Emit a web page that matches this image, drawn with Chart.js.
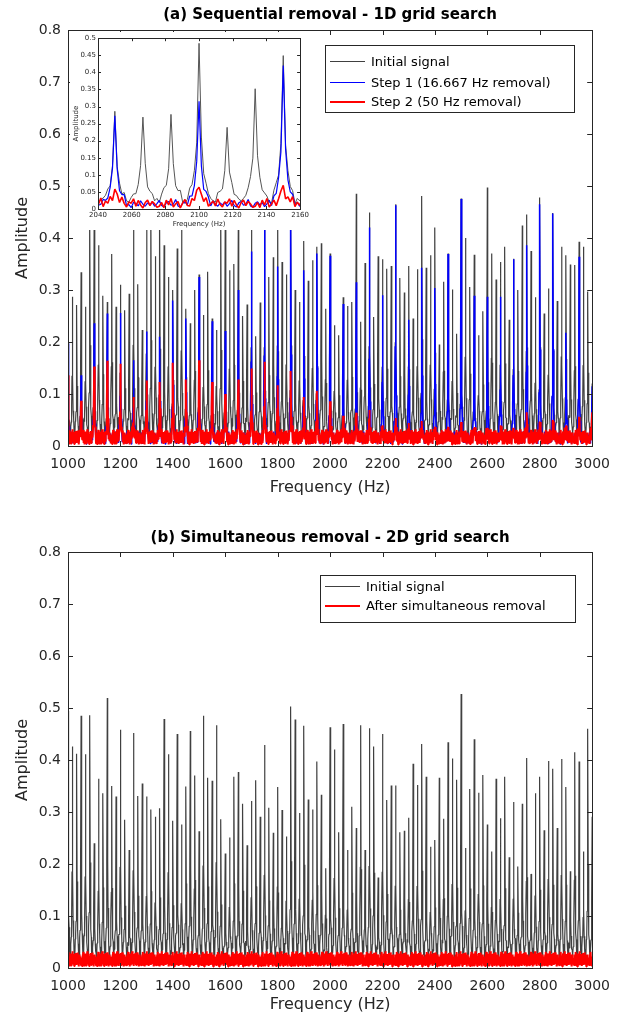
<!DOCTYPE html>
<html>
<head>
<meta charset="utf-8">
<script src="https://cdn.jsdelivr.net/npm/chart.js@4.4.1/dist/chart.umd.min.js"></script>
<style>
  body { margin: 0; background: #fff; }
  #wrap { position: relative; width: 620px; height: 1023px; }
  canvas { position: absolute; }
</style>
</head>
<body>
<div id="wrap">
  <canvas id="chartTop" width="620" height="505" style="left:0;top:0"></canvas>
  <canvas id="chartBottom" width="620" height="518" style="left:0;top:505px"></canvas>
  <canvas id="chartInset" width="241" height="198" style="left:70px;top:32px"></canvas>
</div>
<script>
// harmonics of 16.667 Hz from 1000 to 3000 Hz (121 lines), amplitudes
var topInitial = [
    0.2, 0.287, 0.271, 0.334, 0.268, 0.46, 0.45, 0.386, 0.289, 0.277,
    0.369, 0.268, 0.31, 0.261, 0.293, 0.47, 0.311, 0.223, 0.44, 0.46,
    0.365, 0.45, 0.386, 0.325, 0.3, 0.38, 0.44, 0.264, 0.236, 0.3,
    0.33, 0.252, 0.335, 0.245, 0.223, 0.46, 0.44, 0.338, 0.35, 0.45,
    0.25, 0.272, 0.47, 0.211, 0.276, 0.46, 0.325, 0.363, 0.45, 0.354,
    0.33, 0.47, 0.3, 0.277, 0.394, 0.318, 0.357, 0.383, 0.39, 0.264,
    0.37, 0.232, 0.213, 0.286, 0.269, 0.277, 0.485, 0.239, 0.352, 0.449,
    0.248, 0.365, 0.359, 0.341, 0.346, 0.465, 0.323, 0.295, 0.346, 0.245,
    0.34, 0.481, 0.343, 0.367, 0.42, 0.195, 0.316, 0.37, 0.301, 0.216,
    0.476, 0.4, 0.306, 0.368, 0.213, 0.259, 0.497, 0.37, 0.32, 0.354,
    0.383, 0.243, 0.36, 0.3, 0.424, 0.445, 0.375, 0.286, 0.478, 0.255,
    0.303, 0.448, 0.279, 0.383, 0.367, 0.349, 0.348, 0.393, 0.383, 0.297,
    0.12
];
// after step 1 only the 50 Hz lines are left (every 3rd harmonic)
var topStep1 = [
    0.197, 0.136, 0.236, 0.255, 0.256, 0.165, 0.22, 0.21, 0.28, 0.245,
    0.325, 0.24, 0.221, 0.3, 0.374, 0.45, 0.345, 0.45, 0.338, 0.37,
    0.366, 0.273, 0.315, 0.42, 0.29, 0.463, 0.243, 0.343, 0.304, 0.369,
    0.475, 0.289, 0.287, 0.287, 0.359, 0.386, 0.465, 0.447, 0.218, 0.364,
    0.115
];
var topStep2 = [
    0.136, 0.087, 0.153, 0.164, 0.158, 0.094, 0.126, 0.123, 0.16, 0.128,
    0.165, 0.123, 0.1, 0.128, 0.149, 0.162, 0.117, 0.144, 0.094, 0.106,
    0.086, 0.058, 0.064, 0.069, 0.04, 0.054, 0.044, 0.048, 0.037, 0.037,
    0.046, 0.035, 0.035, 0.04, 0.035, 0.065, 0.045, 0.05, 0.035, 0.056,
    0.065
];
var bottomInitial = [
    0.494, 0.426, 0.412, 0.485, 0.411, 0.486, 0.24, 0.364, 0.336, 0.519,
    0.35, 0.33, 0.458, 0.285, 0.227, 0.452, 0.331, 0.355, 0.33, 0.305,
    0.291, 0.307, 0.479, 0.411, 0.283, 0.45, 0.276, 0.349, 0.456, 0.37,
    0.263, 0.485, 0.366, 0.36, 0.467, 0.286, 0.22, 0.251, 0.368, 0.377,
    0.316, 0.236, 0.321, 0.361, 0.291, 0.429, 0.308, 0.26, 0.348, 0.304,
    0.253, 0.503, 0.478, 0.298, 0.466, 0.324, 0.305, 0.397, 0.333, 0.192,
    0.463, 0.42, 0.261, 0.469, 0.227, 0.31, 0.269, 0.467, 0.227, 0.461,
    0.426, 0.174, 0.45, 0.323, 0.351, 0.351, 0.261, 0.264, 0.289, 0.393,
    0.352, 0.431, 0.368, 0.233, 0.246, 0.366, 0.287, 0.434, 0.403, 0.362,
    0.527, 0.231, 0.344, 0.44, 0.337, 0.371, 0.276, 0.224, 0.364, 0.288,
    0.368, 0.213, 0.319, 0.195, 0.316, 0.404, 0.181, 0.336, 0.368, 0.265,
    0.398, 0.383, 0.269, 0.402, 0.348, 0.186, 0.415, 0.397, 0.224, 0.46,
    0.291
];
var bottomRemoved = []; // no lines left after simultaneous removal

// noise floor between the lines
var grayFloor = [0.024, 0.031, 0.019, 0.027, 0.035, 0.022, 0.018, 0.029, 0.033, 0.021, 0.026, 0.038, 0.02,
    0.017, 0.028, 0.032, 0.023, 0.03, 0.019, 0.025, 0.036, 0.021, 0.027, 0.016, 0.031, 0.024, 0.02,
    0.034, 0.028, 0.018, 0.026, 0.03, 0.022, 0.037, 0.019, 0.025, 0.029];
var blueFloor = [0.012, 0.02, 0.008, 0.016, 0.025, 0.01, 0.006, 0.018, 0.022, 0.011, 0.014, 0.028, 0.009,
    0.005, 0.017, 0.021, 0.012, 0.019, 0.007, 0.015, 0.026, 0.01, 0.013, 0.004, 0.02, 0.016, 0.009,
    0.024, 0.014, 0.008, 0.018];
var redFloor = [0.008, 0.019, 0.004, 0.026, 0.012, 0.031, 0.006, 0.015, 0.022, 0.003, 0.018, 0.028, 0.01,
    0.005, 0.024, 0.014, 0.032, 0.007, 0.02, 0.011, 0.027, 0.004, 0.016, 0.023, 0.009, 0.029, 0.013,
    0.006, 0.021, 0.017, 0.03, 0.008, 0.025, 0.012, 0.003, 0.019, 0.026, 0.01, 0.022, 0.015, 0.005];

var xTicks = [1000, 1200, 1400, 1600, 1800, 2000, 2200, 2400, 2600, 2800, 3000];
var yTicks = [0, 0.1, 0.2, 0.3, 0.4, 0.5, 0.6, 0.7, 0.8];
var insetXTicks = [2040, 2060, 2080, 2100, 2120, 2140, 2160];
var insetYTicks = [0, 0.05, 0.1, 0.15, 0.2, 0.25, 0.3, 0.35, 0.4, 0.45, 0.5];

var F0 = 1000;
var STEP = 50 / 3;
var SUB = 12;
var PEAK_SHAPE = [0.06, 0.1, 0.17, 0.36, 1, 0.36, 0.17, 0.1, 0.06];

function buildLine(peaks, every, floor) {
    var pts = [];
    for (var n = 0; n <= 120; n++) {
        var f = F0 + n * STEP;
        for (var i = 0; i < SUB; i++) {
            var j = i - 4;
            var y = floor[(n * SUB + i) % floor.length];
            if (n % every === 0 && j <= 4 && peaks.length > n / every) {
                var p = peaks[n / every];
                y = j === 0 ? p : y + p * PEAK_SHAPE[j + 4];
            }
            pts.push({ x: f + j * STEP / SUB, y: y });
        }
    }
    return pts;
}

var GRAY = "#404040";
var BLUE = "#0000ff";
var RED = "#ff0000";
var FONT = "DejaVu Sans";

var topGrayPts = buildLine(topInitial, 1, grayFloor);
var topBluePts = buildLine(topStep1, 3, blueFloor);
var topRedPts = buildLine(topStep2, 3, redFloor);
var botGrayPts = buildLine(bottomInitial, 1, grayFloor);
var botRedPts = buildLine(bottomRemoved, 3, redFloor);

// box, inward ticks, titles and legend drawn MATLAB style
var framePlugin = {
    id: "frame",
    beforeDraw: function (chart, args, o) {
        if (o.background) {
            var c = chart.ctx;
            c.save();
            c.fillStyle = o.background;
            c.fillRect(0, 0, chart.width, chart.height);
            c.restore();
        }
    },
    afterDraw: function (chart, args, o) {
        var c = chart.ctx;
        var a = chart.chartArea;
        var xs = chart.scales.x, ys = chart.scales.y;
        var tl = o.tickLen;
        c.save();
        c.strokeStyle = "#262626";
        c.lineWidth = 1;
        c.beginPath();
        xs.ticks.forEach(function (t) {
            var px = Math.round(xs.getPixelForValue(t.value)) + 0.5;
            c.moveTo(px, a.bottom); c.lineTo(px, a.bottom - tl);
            c.moveTo(px, a.top); c.lineTo(px, a.top + tl);
        });
        ys.ticks.forEach(function (t) {
            var py = Math.round(ys.getPixelForValue(t.value)) + 0.5;
            c.moveTo(a.left, py); c.lineTo(a.left + tl, py);
            c.moveTo(a.right, py); c.lineTo(a.right - tl, py);
        });
        c.stroke();
        c.strokeRect(Math.round(a.left) + 0.5, Math.round(a.top) + 0.5,
            Math.round(a.right - a.left), Math.round(a.bottom - a.top));

        c.fillStyle = "#000";
        c.textAlign = "center";
        c.textBaseline = "middle";
        var cx = (a.left + a.right) / 2;
        if (o.title) {
            c.font = "bold " + o.titleSize + "px " + FONT;
            c.fillText(o.title, cx, o.titleY);
        }
        c.fillStyle = "#262626";
        c.font = o.labelSize + "px " + FONT;
        c.fillText(o.xTitle, cx, o.xTitleY);
        c.save();
        c.translate(o.yTitleX, (a.top + a.bottom) / 2);
        c.rotate(-Math.PI / 2);
        c.fillText(o.yTitle, 0, 0);
        c.restore();

        if (o.legend) {
            var L = o.legend;
            c.fillStyle = "#fff";
            c.fillRect(L.x, L.y, L.w, L.h);
            c.strokeStyle = "#262626";
            c.lineWidth = 1;
            c.strokeRect(L.x + 0.5, L.y + 0.5, L.w, L.h);
            c.font = L.size + "px " + FONT;
            c.textAlign = "left";
            L.items.forEach(function (it, i) {
                var y = Math.round(L.firstRow + i * L.rowH) + (it.width % 2 ? 0.5 : 0);
                c.strokeStyle = it.color;
                c.lineWidth = it.width;
                c.beginPath();
                c.moveTo(L.x + 5, y); c.lineTo(L.x + 40, y);
                c.stroke();
                c.fillStyle = "#000";
                c.fillText(it.label, L.x + 46, y + 1);
            });
        }
        c.restore();
    },
};

function fmt(v) {
    return String(Number(v.toFixed(3)));
}

function lineSet(label, pts, color, width, order) {
    return {
        label: label,
        data: pts,
        borderColor: color,
        borderWidth: width,
        pointRadius: 0,
        tension: 0,
        borderJoinStyle: "bevel",
        order: order,
    };
}

function axes(xMin, xMax, xT, yMax, yT, fontSize, yWidth, xHeight, yPad, xPad) {
    return {
        x: {
            type: "linear",
            min: xMin,
            max: xMax,
            afterBuildTicks: function (s) { s.ticks = xT.map(function (v) { return { value: v }; }); },
            afterFit: function (s) { s.height = xHeight; },
            grid: { display: false, drawTicks: false },
            border: { display: false },
            ticks: { color: "#262626", font: { family: FONT, size: fontSize }, padding: xPad, maxRotation: 0, autoSkip: false, callback: function (v) { return String(v); } },
        },
        y: {
            min: 0,
            max: yMax,
            afterBuildTicks: function (s) { s.ticks = yT.map(function (v) { return { value: v }; }); },
            afterFit: function (s) { s.width = yWidth; },
            grid: { display: false, drawTicks: false },
            border: { display: false },
            ticks: { color: "#262626", font: { family: FONT, size: fontSize }, padding: yPad, autoSkip: false, callback: fmt },
        },
    };
}

//CHART 1 - sequential removal
new Chart(document.getElementById("chartTop"), {
    type: "line",
    data: {
        datasets: [
            lineSet("Initial signal", topGrayPts, GRAY, 1.2, 3),
            lineSet("Step 1 (16.667 Hz removal)", topBluePts, BLUE, 1.5, 2),
            lineSet("Step 2 (50 Hz removal)", topRedPts, RED, 2, 1),
        ],
    },
    plugins: [framePlugin],
    options: {
        responsive: false,
        animation: false,
        events: [],
        layout: { padding: { top: 30, right: 26, left: 0, bottom: 0 } },
        scales: axes(1000, 3000, xTicks, 0.8, yTicks, 14, 68, 59, 7, 10),
        plugins: {
            legend: { display: false },
            tooltip: { enabled: false },
            frame: {
                tickLen: 5,
                title: "(a) Sequential removal - 1D grid search",
                titleSize: 15,
                titleY: 15,
                xTitle: "Frequency (Hz)",
                xTitleY: 488,
                yTitle: "Amplitude",
                yTitleX: 23,
                labelSize: 16,
                legend: {
                    x: 325, y: 45, w: 249, h: 67, size: 13, firstRow: 61, rowH: 20.5,
                    items: [
                        { label: "Initial signal", color: GRAY, width: 1 },
                        { label: "Step 1 (16.667 Hz removal)", color: BLUE, width: 1 },
                        { label: "Step 2 (50 Hz removal)", color: RED, width: 2 },
                    ],
                },
            },
        },
    },
});

//CHART 2 - simultaneous removal
new Chart(document.getElementById("chartBottom"), {
    type: "line",
    data: {
        datasets: [
            lineSet("Initial signal", botGrayPts, GRAY, 1.2, 2),
            lineSet("After simultaneous removal", botRedPts, RED, 2, 1),
        ],
    },
    plugins: [framePlugin],
    options: {
        responsive: false,
        animation: false,
        events: [],
        layout: { padding: { top: 47, right: 26, left: 0, bottom: 0 } },
        scales: axes(1000, 3000, xTicks, 0.8, yTicks, 14, 68, 55, 7, 10),
        plugins: {
            legend: { display: false },
            tooltip: { enabled: false },
            frame: {
                tickLen: 5,
                title: "(b) Simultaneous removal - 2D grid search",
                titleSize: 15,
                titleY: 33,
                xTitle: "Frequency (Hz)",
                xTitleY: 500,
                yTitle: "Amplitude",
                yTitleX: 23,
                labelSize: 16,
                legend: {
                    x: 320, y: 70, w: 255, h: 47, size: 13, firstRow: 81, rowH: 20,
                    items: [
                        { label: "Initial signal", color: GRAY, width: 1 },
                        { label: "After simultaneous removal", color: RED, width: 2 },
                    ],
                },
            },
        },
    },
});

//INSET - zoom on 2040-2160 Hz
new Chart(document.getElementById("chartInset"), {
    type: "line",
    data: {
        datasets: [
            lineSet("Initial signal", topGrayPts, "#555555", 1, 3),
            lineSet("Step 1", topBluePts, BLUE, 1.2, 2),
            lineSet("Step 2", topRedPts, RED, 1.6, 1),
        ],
    },
    plugins: [framePlugin],
    options: {
        responsive: false,
        animation: false,
        events: [],
        layout: { padding: { top: 6, right: 4, left: 0, bottom: 0 } },
        scales: axes(2040, 2160, insetXTicks, 0.5, insetYTicks, 7, 28, 21, 2, 2),
        plugins: {
            legend: { display: false },
            tooltip: { enabled: false },
            frame: {
                background: "#ffffff",
                tickLen: 3,
                xTitle: "Frequency (Hz)",
                xTitleY: 192,
                yTitle: "Amplitude",
                yTitleX: 6,
                labelSize: 7,
            },
        },
    },
});
</script>
</body>
</html>
